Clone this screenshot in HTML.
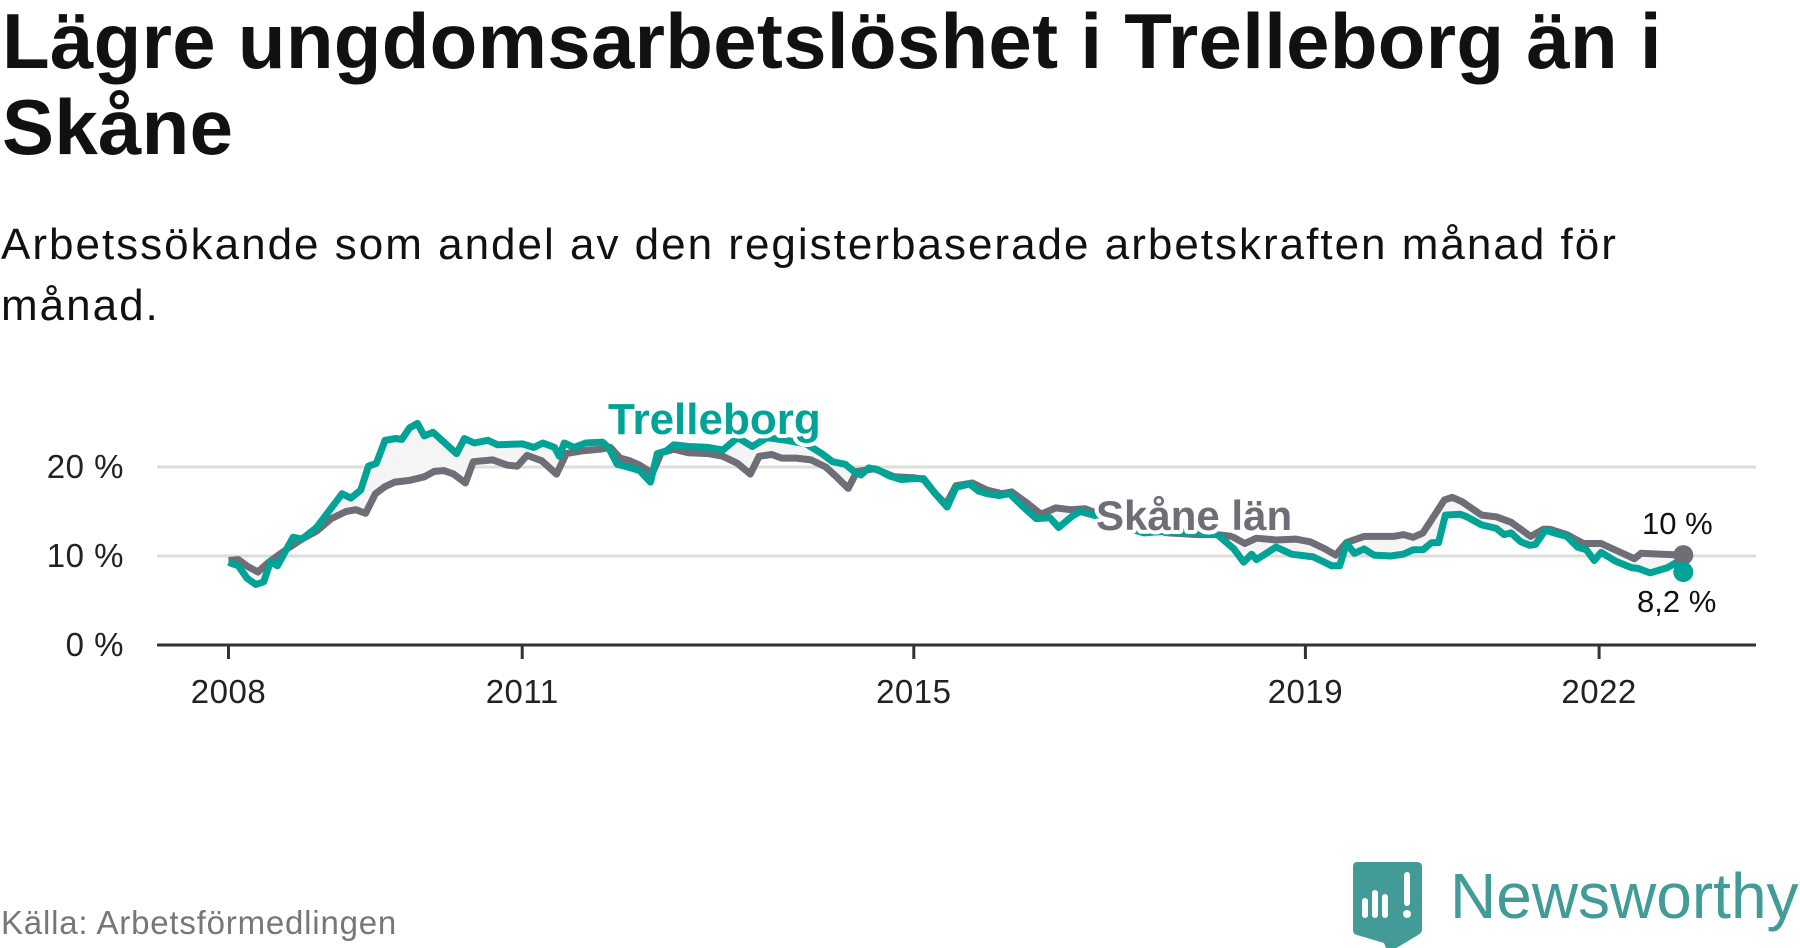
<!DOCTYPE html>
<html><head><meta charset="utf-8">
<style>
html,body{margin:0;padding:0;background:#fff;}
body{width:1800px;height:948px;position:relative;overflow:hidden;font-family:"Liberation Sans",sans-serif;}
#title{position:absolute;left:2px;top:-2px;font-weight:bold;font-size:78px;line-height:86px;color:#111;letter-spacing:0.3px;}
#subtitle{position:absolute;left:1px;top:214px;font-size:44px;line-height:61px;color:#111;letter-spacing:2px;}
#source{position:absolute;left:1px;top:904px;font-size:33px;color:#777;letter-spacing:0.8px;}
svg{position:absolute;left:0;top:0;}
</style></head>
<body>
<div id="title">Lägre ungdomsarbetslöshet i Trelleborg än i<br>Skåne</div>
<div id="subtitle">Arbetssökande som andel av den registerbaserade arbetskraften månad för<br>månad.</div>
<div id="source">Källa: Arbetsförmedlingen</div>
<svg id="chart" width="1800" height="948"></svg>
<svg width="1800" height="948" style="pointer-events:none">
  <path d="M1357 862 h60 q5 0 5 5 v62 q0 4 -4 6 l-30 18 l-4 -10 l-27 -8 q-4 -1 -4 -5 v-63 q0 -5 4 -5z" fill="#429b96"/>
  <rect x="1362" y="898" width="6" height="20" rx="3" fill="#fff"/>
  <rect x="1372" y="890" width="6" height="28" rx="3" fill="#fff"/>
  <rect x="1382" y="894" width="6" height="24" rx="3" fill="#fff"/>
  <rect x="1404" y="872" width="6" height="34" rx="3" fill="#fff"/>
  <circle cx="1407" cy="914" r="4" fill="#fff"/>
  <text x="1450" y="918" font-family="Liberation Sans, sans-serif" font-size="64" fill="#429b96">Newsworthy</text>
</svg>
<script>
const xTicks = [2008, 2011, 2015, 2019, 2022];
const yTicks = [0, 10, 20];
const yTickLabels = ["0 %", "10 %", "20 %"];
const skaneDates = [2008.0,2008.1,2008.2,2008.3,2008.4,2008.5,2008.6,2008.75,2008.9,2009.05,2009.2,2009.3,2009.4,2009.5,2009.6,2009.7,2009.85,2010.0,2010.1,2010.2,2010.3,2010.42,2010.5,2010.7,2010.85,2010.95,2011.05,2011.2,2011.35,2011.45,2011.6,2011.8,2011.9,2012.0,2012.1,2012.2,2012.33,2012.42,2012.55,2012.7,2012.9,2013.05,2013.2,2013.33,2013.42,2013.55,2013.65,2013.8,2013.95,2014.1,2014.2,2014.33,2014.42,2014.6,2014.8,2015.0,2015.1,2015.22,2015.33,2015.43,2015.6,2015.75,2015.9,2016.0,2016.15,2016.3,2016.45,2016.6,2016.75,2017.0,2017.3,2017.6,2017.9,2018.1,2018.25,2018.38,2018.5,2018.7,2018.9,2019.05,2019.2,2019.31,2019.42,2019.6,2019.9,2020.0,2020.1,2020.2,2020.29,2020.42,2020.5,2020.6,2020.8,2020.95,2021.1,2021.3,2021.43,2021.5,2021.67,2021.84,2022.02,2022.2,2022.36,2022.43,2022.86];
const skaneValues = [9.5,9.6,8.8,8.2,9.2,10.0,10.8,11.9,12.8,14.2,15.0,15.2,14.8,17.0,17.8,18.3,18.5,18.9,19.5,19.6,19.2,18.2,20.6,20.8,20.2,20.1,21.3,20.7,19.2,21.5,21.8,22.0,22.2,21.0,20.7,20.2,19.3,21.6,22.0,21.6,21.5,21.2,20.4,19.2,21.2,21.4,21.0,21.0,20.8,20.0,19.0,17.6,19.5,19.8,18.9,18.8,18.6,17.0,15.8,17.9,18.2,17.4,17.0,17.2,16.0,14.7,15.4,15.2,15.3,14.3,13.2,12.6,12.4,12.4,12.2,11.4,12.0,11.8,11.9,11.6,10.8,10.1,11.5,12.2,12.2,12.4,12.1,12.6,14.1,16.3,16.6,16.1,14.6,14.4,13.8,12.2,13.0,13.0,12.4,11.4,11.4,10.5,9.7,10.3,10.1];
const trelleDates = [2008.0,2008.1,2008.19,2008.28,2008.36,2008.43,2008.5,2008.66,2008.75,2008.9,2009.07,2009.16,2009.25,2009.35,2009.43,2009.51,2009.6,2009.71,2009.77,2009.85,2009.93,2010.0,2010.09,2010.18,2010.33,2010.41,2010.51,2010.65,2010.75,2011.0,2011.12,2011.21,2011.33,2011.38,2011.43,2011.53,2011.65,2011.82,2011.88,2011.97,2012.08,2012.2,2012.31,2012.38,2012.47,2012.55,2012.7,2012.9,2013.05,2013.2,2013.35,2013.5,2013.7,2013.9,2014.06,2014.17,2014.3,2014.4,2014.46,2014.54,2014.63,2014.75,2014.87,2015.0,2015.1,2015.22,2015.34,2015.43,2015.57,2015.66,2015.75,2015.87,2015.98,2016.1,2016.25,2016.39,2016.48,2016.62,2016.7,2016.9,2017.1,2017.35,2017.6,2017.9,2018.1,2018.27,2018.37,2018.45,2018.5,2018.7,2018.86,2019.08,2019.27,2019.35,2019.42,2019.5,2019.6,2019.7,2019.87,2020.0,2020.1,2020.2,2020.29,2020.36,2020.43,2020.58,2020.65,2020.8,2020.95,2021.03,2021.1,2021.2,2021.29,2021.35,2021.45,2021.57,2021.67,2021.78,2021.87,2021.95,2022.02,2022.17,2022.33,2022.4,2022.52,2022.7,2022.78,2022.86];
const trelleValues = [9.3,8.9,7.5,6.8,7.1,9.4,8.9,12.1,11.9,13.2,15.7,17.0,16.5,17.4,20.1,20.4,23.0,23.2,23.1,24.4,24.9,23.5,23.9,23.0,21.5,23.2,22.7,23.0,22.5,22.6,22.2,22.7,22.2,21.2,22.7,22.2,22.7,22.8,22.2,20.3,20.0,19.6,18.3,21.5,21.8,22.5,22.3,22.2,21.9,23.3,22.3,23.3,23.0,22.6,21.5,20.6,20.3,19.4,19.1,19.9,19.7,19.0,18.6,18.7,18.7,17.0,15.5,17.7,18.1,17.3,17.0,16.8,17.0,15.7,14.2,14.3,13.2,14.5,15.0,14.4,13.4,12.6,12.8,12.6,12.4,10.8,9.3,10.2,9.6,11.0,10.2,9.9,8.9,8.9,11.4,10.3,10.8,10.1,10.0,10.2,10.7,10.7,11.5,11.5,14.6,14.7,14.4,13.5,13.1,12.4,12.6,11.6,11.2,11.3,12.9,12.5,12.2,11.0,10.7,9.5,10.4,9.4,8.7,8.6,8.1,8.7,9.2,8.2];

const NS = "http://www.w3.org/2000/svg";
const svg = document.getElementById('chart');
const X0 = 228.5, XPY = 97.9, Y0 = 645, YPP = 8.9;
function xs(v){ return X0 + (v - 2008) * XPY; }
function ys(v){ return Y0 - v * YPP; }
function mk(tag, attrs){ const e = document.createElementNS(NS, tag); for (const k in attrs) e.setAttribute(k, attrs[k]); svg.appendChild(e); return e; }

yTicks.forEach((t, i) => {
  if (t !== 0) {
    const g = mk('line', {x1:157, x2:1756, y1:ys(t), y2:ys(t), stroke:'#dddddd', 'stroke-width':3});
    
    
  }
  const l = mk('text', {x:124, y:ys(t)+11, 'text-anchor':'end', 'font-size':33, fill:'#222', 'font-family':'Liberation Sans, sans-serif', 'letter-spacing':0.5});
  l.textContent = yTickLabels[i];
  
  
});

const pts = (d, v) => d.map((x, i) => xs(x).toFixed(1) + ',' + ys(v[i]).toFixed(1));
const area = mk('polygon', {points: pts(trelleDates, trelleValues).concat(pts(skaneDates, skaneValues).reverse()).join(' '), fill:'#f5f5f5'});



const axis = mk('line', {x1:157, x2:1756, y1:Y0, y2:Y0, stroke:'#333', 'stroke-width':3});


xTicks.forEach(t => {
  const tk = mk('line', {x1:xs(t), x2:xs(t), y1:Y0, y2:Y0+14, stroke:'#333', 'stroke-width':3});
  
  
  const l = mk('text', {x:xs(t), y:703, 'text-anchor':'middle', 'font-size':33, fill:'#222', 'font-family':'Liberation Sans, sans-serif', 'letter-spacing':0.5});
  l.textContent = String(t);
  
  
});

const sk = mk('polyline', {points: pts(skaneDates, skaneValues).join(' '), fill:'none', stroke:'#6f6d75', 'stroke-width':7, 'stroke-linejoin':'round'});


const tr = mk('polyline', {points: pts(trelleDates, trelleValues).join(' '), fill:'none', stroke:'#00a396', 'stroke-width':7, 'stroke-linejoin':'round'});



const ls = skaneDates.length - 1, lt = trelleDates.length - 1;
const d1 = mk('circle', {cx:xs(skaneDates[ls]), cy:ys(skaneValues[ls]), r:10, fill:'#6f6d75'});


const d2 = mk('circle', {cx:xs(trelleDates[lt]), cy:ys(trelleValues[lt]), r:10, fill:'#00a396'});



function label(txt, x, y, size, color, bold, name){
  const t = mk('text', {x:x, y:y, 'font-size':size, fill:color, 'font-weight':bold?'bold':'normal', 'font-family':'Liberation Sans, sans-serif', stroke:'#fff', 'stroke-width':bold?8:0, 'paint-order':'stroke', 'stroke-linejoin':'round'});
  t.textContent = txt;
  
  
}
label('Trelleborg', 608, 434, 44, '#00a396', true, 'trelleborg-label');
label('Skåne län', 1096, 530, 42, '#6f6d75', true, 'skane-label');
label('10 %', 1642, 534, 31, '#111', false, 'skane-end-value');
label('8,2 %', 1637, 612, 31, '#111', false, 'trelleborg-end-value');
</script>
</body></html>
